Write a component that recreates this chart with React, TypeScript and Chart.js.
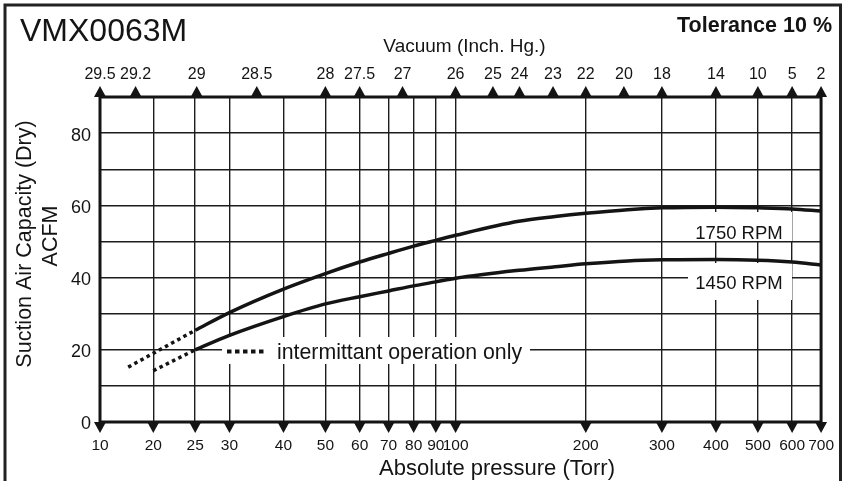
import React, { useEffect, useRef } from 'react';
import { Chart, registerables } from 'chart.js';

Chart.register(...registerables);

// ---- data ----
const PRESSURE_TORR = [25, 30, 40, 50, 60, 70, 80, 90, 100, 140, 170, 200, 250, 300, 400, 500, 600, 700];
const CAPACITY_1750 = [25.4, 30.3, 36.8, 41.1, 44.3, 46.7, 48.7, 50.3, 51.7, 55.6, 56.9, 57.8, 58.8, 59.3, 59.5, 59.3, 59.0, 58.4];
const CAPACITY_1450 = [20.0, 24.0, 29.2, 32.7, 34.7, 36.3, 37.7, 38.8, 39.8, 42.0, 43.0, 43.8, 44.6, 44.9, 45.0, 44.8, 44.3, 43.5];

const INTERMITTENT_1750_TORR = [17.5, 25];
const INTERMITTENT_1750 = [15.2, 25.4];
const INTERMITTENT_1450_TORR = [20, 25];
const INTERMITTENT_1450 = [14.2, 20.0];

const BOTTOM_TICKS = [10, 20, 25, 30, 40, 50, 60, 70, 80, 90, 100, 200, 300, 400, 500, 600, 700];
const TOP_TICK_LABELS = ['29.5', '29.2', '29', '28.5', '28', '27.5', '27', '26', '25', '24', '23', '22', '20', '18', '14', '10', '5', '2'];
const TOP_TICK_TORR = [10, 18.2, 25.2, 34.7, 50, 60, 75.4, 100, 122, 140.5, 168, 200, 245, 300, 400, 500, 600, 700];
const Y_TICK_LABELS = [0, 20, 40, 60, 80];

const X_MIN = 15.06; // left edge of the (broken) axis, labelled "10"
const X_MAX = 700;
const Y_MAX = 90;

const FONT = "'Liberation Sans', Arial, Helvetica, sans-serif";
const INK = '#141414';
const GRID = '#1c1c1c';

const pts = (xs: number[], ys: number[]) => xs.map((x, i) => ({ x, y: ys[i] }));

const decorPlugin = {
  id: 'decor',
  beforeDatasetsDraw(chart: any) {
    const { ctx } = chart;
    ctx.save();
    // white label backgrounds (hide grid behind labels)
    ctx.fillStyle = '#ffffff';
    ctx.fillRect(688, 212, 104, 29);
    ctx.fillRect(688, 263, 104, 37);
    ctx.fillRect(222, 337, 308, 27);

    ctx.fillStyle = INK;
    ctx.textBaseline = 'alphabetic';
    ctx.textAlign = 'center';
    ctx.font = `18.5px ${FONT}`;
    ctx.fillText('1750 RPM', 739, 238.5);
    ctx.fillText('1450 RPM', 739, 288.5);

    ctx.textAlign = 'left';
    ctx.font = `21.3px ${FONT}`;
    ctx.fillText('intermittant operation only', 277, 358.5);

    // legend sample of dotted line
    ctx.strokeStyle = INK;
    ctx.lineWidth = 4;
    ctx.setLineDash([4.5, 3.5]);
    ctx.beginPath();
    ctx.moveTo(227, 351.5);
    ctx.lineTo(264, 351.5);
    ctx.stroke();
    ctx.restore();
  },
  afterDatasetsDraw(chart: any) {
    const { ctx, chartArea: a, scales } = chart;
    ctx.save();
    // plot frame
    ctx.strokeStyle = INK;
    ctx.lineWidth = 3;
    ctx.strokeRect(a.left, a.top, a.right - a.left, a.bottom - a.top);

    // triangles on the axes
    ctx.fillStyle = INK;
    const tri = (px: number, base: number, dir: number) => {
      ctx.beginPath();
      ctx.moveTo(px - 6, base);
      ctx.lineTo(px + 6, base);
      ctx.lineTo(px, base + dir * 11);
      ctx.closePath();
      ctx.fill();
    };
    scales.x.ticks.forEach((t: any) => tri(scales.x.getPixelForValue(t.value), a.bottom, 1));
    scales.xTop.ticks.forEach((t: any) => tri(scales.xTop.getPixelForValue(t.value), a.top, -1));

    // outer frame
    ctx.strokeStyle = '#222222';
    ctx.lineWidth = 3;
    ctx.beginPath();
    ctx.moveTo(5, 495);
    ctx.lineTo(5, 5);
    ctx.lineTo(840.5, 5);
    ctx.lineTo(840.5, 495);
    ctx.stroke();

    // texts
    ctx.fillStyle = INK;
    ctx.textBaseline = 'alphabetic';
    ctx.textAlign = 'left';
    ctx.font = `32px ${FONT}`;
    ctx.fillText('VMX0063M', 20, 40.5);

    ctx.textAlign = 'right';
    ctx.font = `bold 21.5px ${FONT}`;
    ctx.fillText('Tolerance 10 %', 832, 31.5);

    ctx.textAlign = 'center';
    ctx.font = `19px ${FONT}`;
    ctx.fillText('Vacuum (Inch. Hg.)', 464.5, 52);

    ctx.font = `22px ${FONT}`;
    ctx.fillText('Absolute pressure (Torr)', 497, 475);

    // y axis title (rotated)
    ctx.font = `21.5px ${FONT}`;
    ctx.save();
    ctx.translate(30.5, 244);
    ctx.rotate(-Math.PI / 2);
    ctx.fillText('Suction Air Capacity (Dry)', 0, 0);
    ctx.restore();
    ctx.save();
    ctx.translate(57.3, 236);
    ctx.rotate(-Math.PI / 2);
    ctx.fillText('ACFM', 0, 0);
    ctx.restore();

    ctx.restore();
  },
};

export default function App() {
  const ref = useRef<HTMLCanvasElement | null>(null);

  useEffect(() => {
    if (!ref.current) return;
    Chart.defaults.font.family = FONT;
    Chart.defaults.color = INK;
    const solid = { borderColor: INK, borderWidth: 3.5, pointRadius: 0, fill: false, cubicInterpolationMode: 'monotone' as const, xAxisID: 'x', yAxisID: 'y' };
    const dotted = { borderColor: INK, borderWidth: 3.5, pointRadius: 0, fill: false, borderDash: [3.5, 3.5], tension: 0, xAxisID: 'x', yAxisID: 'y' };
    const chart = new Chart(ref.current, {
      type: 'line',
      data: {
        datasets: [
          { label: '1750 RPM', data: pts(PRESSURE_TORR, CAPACITY_1750), ...solid },
          { label: '1450 RPM', data: pts(PRESSURE_TORR, CAPACITY_1450), ...solid },
          { label: '1750 RPM intermittent', data: pts(INTERMITTENT_1750_TORR, INTERMITTENT_1750), ...dotted },
          { label: '1450 RPM intermittent', data: pts(INTERMITTENT_1450_TORR, INTERMITTENT_1450), ...dotted },
        ],
      },
      options: {
        animation: false,
        responsive: false,
        devicePixelRatio: 1,
        layout: { padding: { left: 0, right: 26, top: 0, bottom: 0 } },
        plugins: { legend: { display: false }, tooltip: { enabled: false }, title: { display: false } },
        scales: {
          x: {
            type: 'logarithmic',
            position: 'bottom',
            min: X_MIN,
            max: X_MAX,
            afterBuildTicks: (s: any) => {
              s.ticks = BOTTOM_TICKS.map((v) => ({ value: Math.max(v, X_MIN) }));
            },
            afterFit: (s: any) => {
              s.height = 59;
            },
            ticks: {
              autoSkip: false,
              maxRotation: 0,
              minRotation: 0,
              padding: 14,
              font: { size: 15.5 },
              color: INK,
              callback: (_v: any, i: number) => String(BOTTOM_TICKS[i]),
            },
            grid: { display: true, drawTicks: false, color: GRID, lineWidth: 1.4 },
            border: { display: false },
          },
          xTop: {
            type: 'logarithmic',
            position: 'top',
            min: X_MIN,
            max: X_MAX,
            afterBuildTicks: (s: any) => {
              s.ticks = TOP_TICK_TORR.map((v) => ({ value: Math.max(v, X_MIN) }));
            },
            afterFit: (s: any) => {
              s.height = 97;
            },
            ticks: {
              autoSkip: false,
              maxRotation: 0,
              minRotation: 0,
              padding: 13.2,
              font: { size: 16 },
              color: INK,
              callback: (_v: any, i: number) => TOP_TICK_LABELS[i],
            },
            grid: { display: false, drawTicks: false },
            border: { display: false },
          },
          y: {
            type: 'linear',
            position: 'left',
            min: 0,
            max: Y_MAX,
            afterFit: (s: any) => {
              s.width = 100;
            },
            ticks: {
              stepSize: 10,
              padding: 9,
              labelOffset: 2.5,
              font: { size: 18 },
              color: INK,
              callback: (v: any) => (Y_TICK_LABELS.includes(Number(v)) ? String(v) : ''),
            },
            grid: { display: true, drawTicks: false, color: GRID, lineWidth: 1.4 },
            border: { display: false },
          },
        },
      },
      plugins: [decorPlugin],
    } as any);
    return () => chart.destroy();
  }, []);

  return (
    <div style={{ position: 'fixed', left: 0, top: 0, width: 848, height: 481, background: '#fff' }}>
      <canvas ref={ref} width={848} height={481} style={{ display: 'block', width: 848, height: 481 }} />
    </div>
  );
}
